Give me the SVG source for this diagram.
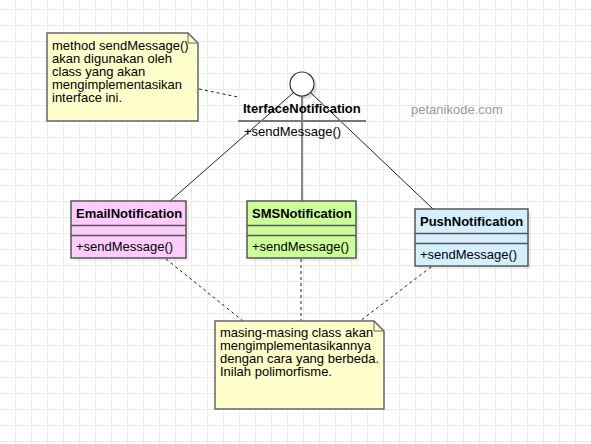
<svg xmlns="http://www.w3.org/2000/svg" width="591" height="444" viewBox="0 0 591 444">
<defs>
<pattern id="grid" width="16" height="16" patternUnits="userSpaceOnUse">
<path d="M15.5 0 V16 M0 9.5 H16" stroke="#ebebeb" stroke-width="1" fill="none"/>
</pattern>
</defs>
<style>
text{font-family:"Liberation Sans",Arial,sans-serif;font-size:13px;fill:#000}
.b{font-weight:bold}
.box{stroke:#555;stroke-width:1.5}
.div{stroke:#555;stroke-width:1.5}
.sh{fill:#000;opacity:0.07}
.note{fill:#ffffcc;stroke:#666;stroke-width:1.5}
.link{stroke:#222;stroke-width:1;fill:none}
.dash{stroke:#222;stroke-width:1;fill:none;stroke-dasharray:3 3}
</style>
<rect width="591" height="444" fill="#fff"/>
<rect width="591" height="444" fill="url(#grid)"/>
<text x="411" y="114" style="fill:#999">petanikode.com</text>
<g id="connectors">
<line class="dash" x1="199" y1="89" x2="238" y2="97"/>
<line class="link" x1="293" y1="93" x2="170" y2="201"/>
<line class="link" x1="302" y1="96" x2="302" y2="201" style="stroke:#444;stroke-width:1.3"/>
<line class="link" x1="311" y1="93" x2="433" y2="209"/>
<line class="dash" x1="166" y1="259" x2="243" y2="321"/>
<line class="dash" x1="301" y1="259" x2="301" y2="321"/>
<line class="dash" x1="431" y1="267" x2="360" y2="321"/>
</g>
<g id="note1">
<path class="note" d="M47 33 H188 L198 43 V121 H47 Z"/>
<path d="M188 33 V43 H198" fill="none" stroke="#666" stroke-width="1"/>
<text x="52" y="50">method sendMessage()</text>
<text x="52" y="63">akan digunakan oleh</text>
<text x="52" y="76">class yang akan</text>
<text x="52" y="89">mengimplementasikan</text>
<text x="52" y="102">interface ini.</text>
</g>
<g id="IterfaceNotification">
<circle cx="305" cy="87" r="12" class="sh" style="opacity:0.12"/>
<circle cx="302" cy="84" r="12" fill="#fff" stroke="#333" stroke-width="1.2"/>
<text class="b" x="243" y="113">IterfaceNotification</text>
<line x1="238" y1="121" x2="366" y2="121" stroke="#777" stroke-width="2"/>
<text x="244" y="136">+sendMessage()</text>
</g>
<g id="EmailNotification">
<rect class="sh" x="74" y="204" width="115" height="57"/>
<rect class="box" x="71" y="201" width="115" height="57" fill="#ffccff"/>
<line class="div" x1="71" y1="225.5" x2="186" y2="225.5"/>
<line class="div" x1="71" y1="235.5" x2="186" y2="235.5"/>
<text class="b" x="76" y="218">EmailNotification</text>
<text x="76" y="251">+sendMessage()</text>
</g>
<g id="SMSNotification">
<rect class="sh" x="250" y="204" width="109" height="57"/>
<rect class="box" x="247" y="201" width="109" height="57" fill="#ccff99"/>
<line class="div" x1="247" y1="225.5" x2="356" y2="225.5"/>
<line class="div" x1="247" y1="235.5" x2="356" y2="235.5"/>
<text class="b" x="252" y="218">SMSNotification</text>
<text x="252" y="251">+sendMessage()</text>
</g>
<g id="PushNotification">
<rect class="sh" x="418" y="212" width="113" height="57"/>
<rect class="box" x="415" y="209" width="113" height="57" fill="#d4efff"/>
<line class="div" x1="415" y1="233.5" x2="528" y2="233.5"/>
<line class="div" x1="415" y1="243.5" x2="528" y2="243.5"/>
<text class="b" x="420" y="226">PushNotification</text>
<text x="420" y="259">+sendMessage()</text>
</g>
<g id="note2">
<path class="note" d="M215 321 H374 L384 331 V409 H215 Z"/>
<path d="M374 321 V331 H384" fill="none" stroke="#666" stroke-width="1"/>
<text x="220" y="337">masing-masing class akan</text>
<text x="220" y="350">mengimplementasikannya</text>
<text x="220" y="363">dengan cara yang berbeda.</text>
<text x="220" y="376">Inilah polimorfisme.</text>
</g>
</svg>
